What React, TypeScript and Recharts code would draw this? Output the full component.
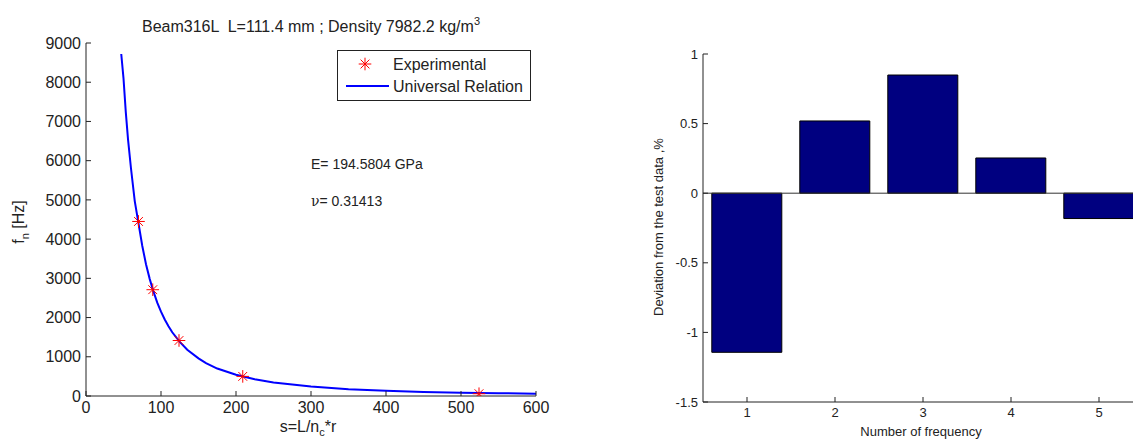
import {
  ComposedChart,
  Line,
  Scatter,
  BarChart,
  Bar,
  XAxis,
  YAxis,
  ReferenceLine,
} from 'recharts';

// left plot: natural frequency vs slenderness
const curveS = [47, 50, 53, 56, 60, 65, 70, 75, 80, 85, 90, 95, 100, 105, 110, 115, 125, 135, 150, 160, 175, 200, 225, 250, 300, 350, 400, 450, 500, 550, 600];
const curveF = [8720, 8100, 7250, 6550, 5800, 4970, 4400, 3830, 3360, 2980, 2660, 2380, 2150, 1950, 1780, 1625, 1380, 1180, 960, 840, 700, 540, 425, 345, 240, 175, 135, 105, 86, 72, 60];
const expS = [70, 89, 124, 209, 524];
const expF = [4450, 2710, 1415, 500, 58];
const sTicks = [0, 100, 200, 300, 400, 500, 600];
const fTicks = [0, 1000, 2000, 3000, 4000, 5000, 6000, 7000, 8000, 9000];

// right plot: deviation per frequency number
const freqNumbers = [1, 2, 3, 4, 5];
const deviations = [-1.143, 0.519, 0.849, 0.253, -0.182];
const devTicks = [-1.5, -1, -0.5, 0, 0.5, 1];

const curve = curveS.map((s, i) => ({ s, f: curveF[i] }));
const experimental = expS.map((s, i) => ({ s, f: expF[i] }));
const devData = freqNumbers.map((n, i) => ({ n, d: deviations[i] }));

const FONT = '"Liberation Sans", Arial, sans-serif';
const INK = '#222';

const Star = (props: any) => {
  const { cx, cy } = props;
  const r = 6.3;
  const d = 4.4;
  return (
    <g stroke="#ff0000" strokeWidth={1}>
      <line x1={cx - r} y1={cy} x2={cx + r} y2={cy} />
      <line x1={cx} y1={cy - r} x2={cx} y2={cy + r} />
      <line x1={cx - d} y1={cy - d} x2={cx + d} y2={cy + d} />
      <line x1={cx - d} y1={cy + d} x2={cx + d} y2={cy - d} />
    </g>
  );
};

const txt = (left: number, top: number, size: number, extra: any = {}) => ({
  position: 'absolute' as const,
  left,
  top,
  fontSize: size,
  lineHeight: 1,
  whiteSpace: 'pre' as const,
  color: INK,
  ...extra,
});

const rotated = (cx: number, cy: number, size: number) => ({
  position: 'absolute' as const,
  left: cx,
  top: cy,
  fontSize: size,
  lineHeight: 1,
  whiteSpace: 'pre' as const,
  color: INK,
  transform: 'translate(-50%, -50%) rotate(-90deg)',
});

export default function App() {
  const axisLine = { stroke: INK, strokeWidth: 1 };
  const leftTick = { fill: INK, fontSize: 16, fontFamily: FONT };
  const rightTick = { fill: INK, fontSize: 13, fontFamily: FONT };

  return (
    <div
      style={{
        position: 'absolute',
        left: 0,
        top: 0,
        width: 1133,
        height: 439,
        overflow: 'hidden',
        background: '#fff',
        fontFamily: FONT,
      }}
    >
      <div style={{ position: 'absolute', left: 0, top: 0 }}>
        <ComposedChart width={560} height={439} margin={{ top: 43, right: 24, bottom: 0, left: 0 }}>
          <XAxis
            dataKey="s"
            type="number"
            domain={[0, 600]}
            ticks={sTicks}
            allowDataOverflow
            height={43}
            tickSize={-5}
            tickMargin={11}
            axisLine={axisLine}
            tickLine={axisLine}
            tick={leftTick}
          />
          <XAxis
            xAxisId="top"
            orientation="top"
            type="number"
            domain={[0, 600]}
            ticks={sTicks}
            height={0}
            tickSize={-5}
            tick={false}
            axisLine={axisLine}
            tickLine={axisLine}
          />
          <YAxis
            type="number"
            domain={[0, 9000]}
            ticks={fTicks}
            allowDataOverflow
            width={86}
            tickSize={-5}
            tickMargin={10}
            axisLine={axisLine}
            tickLine={axisLine}
            tick={leftTick}
          />
          <YAxis
            yAxisId="right"
            orientation="right"
            type="number"
            domain={[0, 9000]}
            ticks={fTicks}
            width={0}
            tickSize={-5}
            tick={false}
            axisLine={axisLine}
            tickLine={axisLine}
          />
          <Line
            data={curve}
            dataKey="f"
            type="linear"
            stroke="#0000ff"
            strokeWidth={2}
            dot={false}
            isAnimationActive={false}
          />
          <Scatter data={experimental} dataKey="f" shape={Star} isAnimationActive={false} />
        </ComposedChart>
      </div>

      <div style={txt(311, 18.5, 16, { transform: 'translateX(-50%)' })}>
        Beam316L  L=111.4 mm ; Density 7982.2 kg/m
        <span style={{ fontSize: 11, position: 'relative', top: -7 }}>3</span>
      </div>

      <div style={txt(311, 157, 14)}>E= 194.5804 GPa</div>
      <div style={txt(311, 194, 14)}>
        <span style={{ fontFamily: '"DejaVu Serif", serif' }}>ν</span>= 0.31413
      </div>

      <div style={txt(308, 419, 16, { transform: 'translateX(-50%)' })}>
        s=L/n<span style={{ fontSize: 11, position: 'relative', top: 4 }}>c</span>*r
      </div>
      <div style={rotated(19, 222, 16)}>
        f<span style={{ fontSize: 11, position: 'relative', top: 5 }}>n</span> [Hz]
      </div>

      <svg
        width={194}
        height={51}
        style={{ position: 'absolute', left: 337, top: 50 }}
      >
        <rect x={0.5} y={0.5} width={193} height={50} fill="#fff" stroke={INK} strokeWidth={1} />
        <Star cx={28} cy={14} />
        <text x={56} y={19.5} fontSize={16} fontFamily={FONT} fill={INK}>
          Experimental
        </text>
        <line x1={9} y1={36} x2={52} y2={36} stroke="#0000ff" strokeWidth={2} />
        <text x={56} y={41.5} fontSize={16} fontFamily={FONT} fill={INK}>
          Universal Relation
        </text>
      </svg>

      <div style={{ position: 'absolute', left: 600, top: 0 }}>
        <BarChart
          width={600}
          height={439}
          data={devData}
          barCategoryGap="10%"
          margin={{ top: 54, right: 57, bottom: 0, left: 0 }}
        >
          <XAxis
            dataKey="n"
            type="category"
            height={37}
            tickSize={-5}
            tickMargin={11}
            axisLine={axisLine}
            tickLine={axisLine}
            tick={rightTick}
          />
          <XAxis
            xAxisId="top"
            orientation="top"
            dataKey="n"
            type="category"
            height={0}
            tickSize={-5}
            tick={false}
            axisLine={axisLine}
            tickLine={axisLine}
          />
          <YAxis
            type="number"
            domain={[-1.5, 1]}
            ticks={devTicks}
            allowDataOverflow
            width={103}
            tickSize={-5}
            tickMargin={10}
            axisLine={axisLine}
            tickLine={axisLine}
            tick={rightTick}
          />
          <ReferenceLine y={0} stroke="#333" strokeWidth={1} />
          <Bar dataKey="d" fill="#000080" stroke="#000" strokeWidth={1} isAnimationActive={false} />
        </BarChart>
      </div>

      <div style={rotated(658, 226.5, 13)}>Deviation from the test data ,%</div>
      <div style={txt(921, 425, 13, { transform: 'translateX(-50%)' })}>Number of frequency</div>
    </div>
  );
}
